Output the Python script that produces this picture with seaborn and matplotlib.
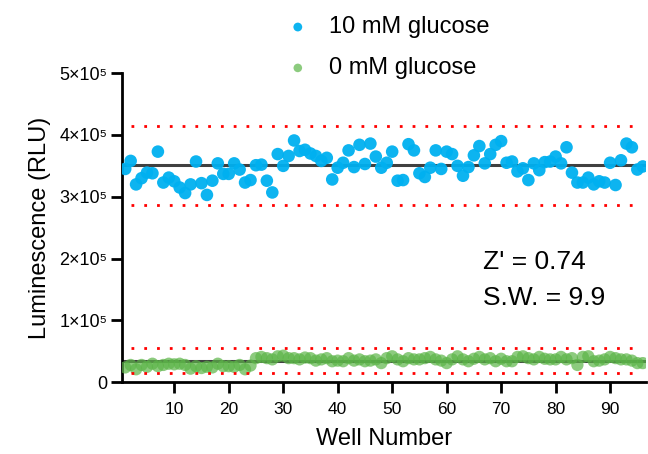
import numpy as np
import pandas as pd
import seaborn as sns
import matplotlib
matplotlib.use("Agg")
import matplotlib.pyplot as plt

# ---------------- data (RLU, in units of 1e5) ----------------
wells = list(range(1, 97))
glucose_10mM = [3.45, 3.58, 3.20, 3.30, 3.39, 3.38, 3.73, 3.23, 3.31, 3.25,
                3.15, 3.06, 3.20, 3.57, 3.22, 3.03, 3.26, 3.54, 3.37, 3.37,
                3.54, 3.44, 3.23, 3.27, 3.51, 3.52, 3.26, 3.07, 3.69, 3.50,
                3.66, 3.91, 3.74, 3.76, 3.70, 3.66, 3.58, 3.63, 3.28, 3.47,
                3.55, 3.75, 3.48, 3.84, 3.53, 3.86, 3.65, 3.47, 3.55, 3.73,
                3.26, 3.27, 3.85, 3.75, 3.38, 3.32, 3.47, 3.75, 3.45, 3.73,
                3.69, 3.50, 3.34, 3.48, 3.67, 3.82, 3.54, 3.69, 3.84, 3.90,
                3.55, 3.57, 3.41, 3.46, 3.27, 3.54, 3.43, 3.56, 3.57, 3.65,
                3.54, 3.80, 3.39, 3.23, 3.23, 3.31, 3.20, 3.25, 3.23, 3.55,
                3.19, 3.59, 3.86, 3.80, 3.44, 3.49]
glucose_0mM = [0.24, 0.28, 0.21, 0.28, 0.25, 0.30, 0.26, 0.28, 0.30, 0.29,
               0.30, 0.28, 0.22, 0.26, 0.23, 0.25, 0.24, 0.30, 0.26, 0.26,
               0.25, 0.28, 0.21, 0.27, 0.39, 0.41, 0.39, 0.37, 0.42, 0.43,
               0.39, 0.39, 0.37, 0.40, 0.39, 0.35, 0.37, 0.39, 0.34, 0.35,
               0.34, 0.39, 0.35, 0.37, 0.34, 0.35, 0.37, 0.31, 0.39, 0.42,
               0.37, 0.34, 0.39, 0.37, 0.37, 0.39, 0.41, 0.37, 0.35, 0.31,
               0.37, 0.42, 0.37, 0.34, 0.38, 0.41, 0.37, 0.39, 0.34, 0.38,
               0.34, 0.34, 0.41, 0.42, 0.39, 0.37, 0.41, 0.38, 0.37, 0.37,
               0.41, 0.37, 0.39, 0.28, 0.41, 0.42, 0.34, 0.35, 0.37, 0.41,
               0.39, 0.37, 0.37, 0.35, 0.31, 0.31]
series_labels = ["10 mM glucose", "0 mM glucose"]
series_colors = ["#00B0F0", "#5CB548"]

# reference lines (mean and mean ± 3 SD), in units of 1e5
mean_10mM, low_10mM, high_10mM = 3.52, 2.86, 4.14
mean_0mM, low_0mM, high_0mM = 0.345, 0.155, 0.55

xticks = [10, 20, 30, 40, 50, 60, 70, 80, 90]
yticks = [0, 1, 2, 3, 4, 5]
ytick_labels = ["0", "1×10⁵", "2×10⁵", "3×10⁵", "4×10⁵", "5×10⁵"]
annotation = ["Z' = 0.74", "S.W. = 9.9"]
scale = 1e5

# ---------------- figure ----------------
sns.set_theme(style="ticks")
plt.rcParams["font.family"] = ["Liberation Sans", "DejaVu Sans"]
for key in ["text.color", "axes.labelcolor", "xtick.color", "ytick.color"]:
    plt.rcParams[key] = "black"

fig = plt.figure(figsize=(6.48, 4.54), dpi=100)
ax = fig.add_axes([0.189, 0.158, 0.808, 0.681])

df = pd.DataFrame({
    "Well": wells * 2,
    "RLU": [v * scale for v in glucose_10mM] + [v * scale for v in glucose_0mM],
    "Condition": [series_labels[0]] * len(wells) + [series_labels[1]] * len(wells),
})

# reference lines
ax.hlines([mean_10mM * scale, mean_0mM * scale], 0.5, 96.5,
          colors="#2b2b2b", linewidth=2.2, alpha=0.9, zorder=1)
ax.hlines([low_10mM * scale, high_10mM * scale, low_0mM * scale, high_0mM * scale],
          2, 95, colors="#FF0000", linestyles=(0, (1, 3.6)), linewidth=2.0, zorder=4)

sns.scatterplot(data=df[df["Condition"] == series_labels[0]], x="Well", y="RLU",
                color=series_colors[0], s=82, edgecolor="none", alpha=0.95,
                label=series_labels[0], ax=ax, zorder=3)
sns.scatterplot(data=df[df["Condition"] == series_labels[1]], x="Well", y="RLU",
                color=series_colors[1], s=78, edgecolor="none", alpha=0.7,
                label=series_labels[1], ax=ax, zorder=3)

ax.set_xlim(0.5, 96.6)
ax.set_ylim(0, 5 * scale)
ax.set_xticks(xticks)
ax.set_xticklabels([str(t) for t in xticks], fontsize=12.5)
ax.set_yticks([t * scale for t in yticks])
ax.set_yticklabels(ytick_labels, fontsize=13)
ax.tick_params(axis="both", direction="out", length=8, width=2, color="black",
               pad=3)
ax.tick_params(axis="x", pad=6)
for sp in ["top", "right"]:
    ax.spines[sp].set_visible(False)
for sp in ["left", "bottom"]:
    ax.spines[sp].set_linewidth(2)
    ax.spines[sp].set_color("black")

ax.set_xlabel("Well Number", fontsize=17, labelpad=8)
ax.set_ylabel("Luminescence (RLU)", fontsize=17, labelpad=6)

ax.text(66.7, 1.95 * scale, annotation[0], fontsize=19, va="center", ha="left")
ax.text(66.7, 1.36 * scale, annotation[1], fontsize=19, va="center", ha="left")

handles, labels = ax.get_legend_handles_labels()
leg = ax.legend(handles, labels, loc="center", bbox_to_anchor=(0.598, 0.895),
                bbox_transform=fig.transFigure, frameon=False, fontsize=17,
                markerscale=0.7, handletextpad=0.8, labelspacing=0.8,
                handlelength=1.0)

fig.savefig("out.png", dpi=100)
